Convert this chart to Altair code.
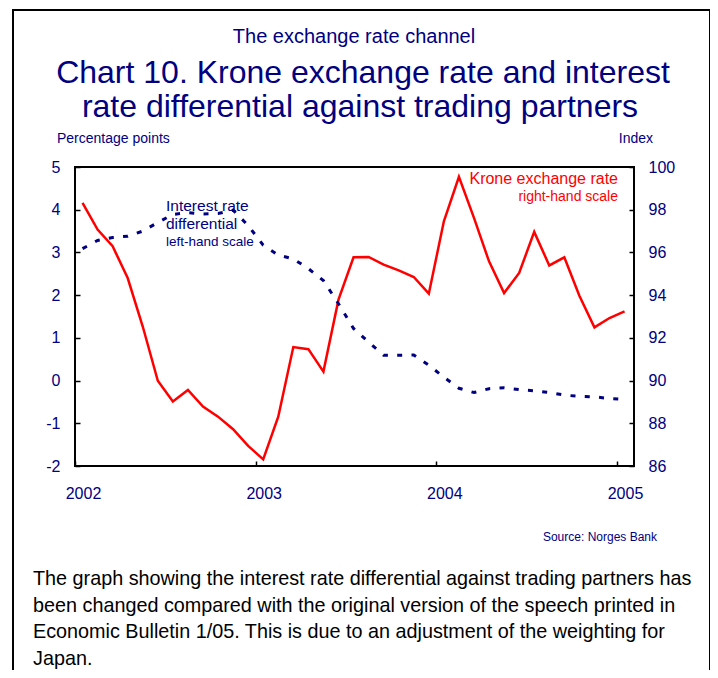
import altair as alt
import pandas as pd

# ---- data ----
months = [f"{y}-{m:02d}" for y in (2002, 2003, 2004) for m in range(1, 13)] + ["2005-01"]
krone_index = [98.32, 97.07, 96.29, 94.80, 92.53, 89.99, 89.02, 89.56, 88.78, 88.31,
               87.72, 86.94, 86.31, 88.31, 91.57, 91.47, 90.42, 93.79, 95.77, 95.79,
               95.43, 95.16, 94.85, 94.07, 97.46, 99.54, 97.62, 95.58, 94.10, 95.04,
               96.96, 95.39, 95.77, 93.97, 92.49, 92.93, 93.24]
rate_diff = [3.09, 3.28, 3.35, 3.38, 3.50, 3.70, 3.89, 3.93, 3.90, 3.91,
             3.99, 3.63, 3.17, 2.94, 2.85, 2.62, 2.34, 1.80, 1.22, 0.90,
             0.59, 0.59, 0.60, 0.36, 0.08, -0.18, -0.28, -0.19, -0.17, -0.21,
             -0.24, -0.28, -0.34, -0.37, -0.38, -0.42, -0.44]
x_ticks = [2002, 2003, 2004, 2005]
left_ticks = [-2, -1, 0, 1, 2, 3, 4, 5]
right_ticks = [86, 88, 90, 92, 94, 96, 98, 100]

df = pd.DataFrame({"month": months, "krone": krone_index, "diff": rate_diff})
df["t"] = df["month"].str[:4].astype(int) + (df["month"].str[5:].astype(int) - 0.5) / 12

NAVY = "#000080"
RED = "#ff0000"
FONT = "Liberation Sans"
W, H = 559, 299

xscale = alt.Scale(domain=[2002, 2005.094], nice=False, zero=False)
xaxis = alt.Axis(values=x_ticks, title=None, domain=False, grid=False,
                 labelExpr="toString(datum.value)",
                 tickColor="black", tickWidth=1.5, tickSize={"expr": "-5"},
                 labelPadding=24, labelFontSize=16, labelColor=NAVY, labelFont=FONT,
                 labelFlush=False, labelOverlap=False, labelOffset=8)

base = alt.Chart(df)

blue = base.mark_line(color=NAVY, strokeWidth=3, strokeDash=[5, 9.3]).encode(
    x=alt.X("t:Q", scale=xscale, axis=xaxis),
    y=alt.Y("diff:Q", scale=alt.Scale(domain=[-2, 5], nice=False, zero=False),
            axis=alt.Axis(values=left_ticks, orient="left", title=None, domain=False, grid=False,
                          labelExpr="toString(datum.value)",
                          tickColor="black", tickWidth=1.5, tickSize={"expr": "-5"},
                          labelPadding=20, labelFontSize=16, labelColor=NAVY, labelFont=FONT,
                          labelOverlap=False, labelFlush=False)),
)

red = base.mark_line(color=RED, strokeWidth=2.5).encode(
    x=alt.X("t:Q", scale=xscale, axis=xaxis),
    y=alt.Y("krone:Q", scale=alt.Scale(domain=[86, 100], nice=False, zero=False),
            axis=alt.Axis(values=right_ticks, orient="right", title=None, domain=False, grid=False,
                          labelExpr="toString(datum.value)",
                          tickColor="black", tickWidth=1.5, tickSize={"expr": "-5"},
                          labelPadding=19, labelFontSize=16, labelColor=NAVY, labelFont=FONT,
                          labelOverlap=False, labelFlush=False)),
)

one = alt.Data(values=[{}])


def txt(text, x, y, size, color, align="left", font=FONT, line_height=None):
    kw = dict(align=align, baseline="alphabetic", fontSize=size, color=color, font=font)
    if line_height is not None:
        kw["lineHeight"] = line_height
    return alt.Chart(one).mark_text(**kw).encode(
        x=alt.value(x), y=alt.value(y), text=alt.value(text))


frame = alt.Chart(one).mark_rect(filled=False, stroke="black", strokeWidth=2).encode(
    x=alt.value(-62), x2=alt.value(635), y=alt.value(-157), y2=alt.value(600))

texts = [
    txt("The exchange rate channel", 279, -124, 20, NAVY, "center"),
    txt("Chart 10. Krone exchange rate and interest", 288, -84, 32, NAVY, "center"),
    txt("rate differential against trading partners", 285, -50, 32, NAVY, "center"),
    txt("Percentage points", -18, -24, 14, NAVY),
    txt("Index", 578, -24, 14, NAVY, "right"),
    txt(["Interest rate", "differential"], 91, 44, 15.5, NAVY, line_height=18),
    txt("left-hand scale", 91, 79, 13.5, NAVY),
    txt("Krone exchange rate", 543, 17, 16, RED, "right"),
    txt("right-hand scale", 543, 34, 14, RED, "right"),
    txt("Source: Norges Bank", 582, 374, 12, NAVY, "right"),
    txt(["The graph showing the interest rate differential against trading partners has",
         "been changed compared with the original version of the speech printed in",
         "Economic Bulletin 1/05. This is due to an adjustment of the weighting for",
         "Japan."], -42, 418, 19.8, "black", line_height=26.5),
]

lines = alt.layer(red, blue).resolve_scale(y="independent")

chart = alt.layer(frame, lines, *texts).resolve_scale(y="independent").properties(
    width=W, height=H,
    autosize=alt.AutoSizeParams(type="none"),
    padding={"left": 67, "top": 159, "right": 76, "bottom": 204},
    background="white",
).configure_view(stroke="black", strokeWidth=2)

chart.save("out.html", embed_options={"renderer": "svg", "actions": False})
